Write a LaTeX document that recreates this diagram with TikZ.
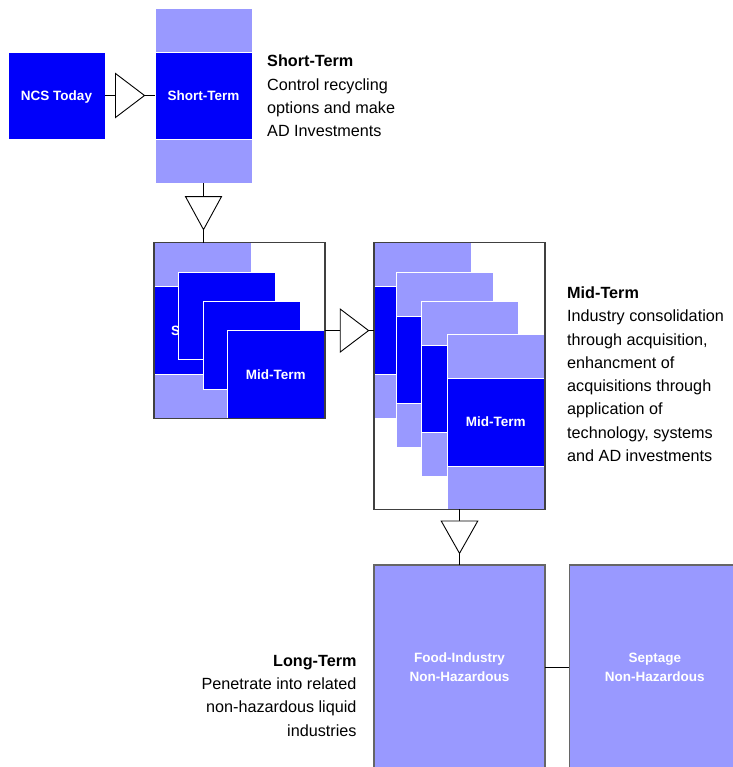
\documentclass[tikz,border=0pt]{standalone}
\usepackage{fontspec}
\setmainfont{Liberation Sans}
\usetikzlibrary{calc,positioning}
\definecolor{darkblue}{RGB}{0,0,250}
\definecolor{paleblue}{RGB}{153,153,255}

\begin{document}
\begin{tikzpicture}[x=1pt,y=-1pt,
    lite/.style={fill=paleblue,draw=white,line width=0.6pt,minimum width=97pt,minimum height=44pt,inner sep=0pt,outer sep=0pt,anchor=north west},
    deep/.style={lite,fill=darkblue,minimum height=87.5pt,text=white,text depth=0pt,font=\fontsize{13.5}{16}\selectfont\bfseries},
    frame/.style={draw=black!75,line width=1.1pt,inner sep=0pt,outer sep=0pt,anchor=north west},
    bigbox/.style={fill=paleblue,draw=black!60,line width=1.1pt,minimum width=171pt,minimum height=204pt,inner sep=0pt,outer sep=0pt,anchor=north west,text=white,align=center,font=\fontsize{13.5}{19}\selectfont\bfseries},
    wire/.style={draw=black,line width=0.9pt},
    tri/.style={draw=black,fill=white,line width=0.9pt,line join=miter},
    note/.style={font=\fontsize{16.2}{23.3}\selectfont,inner sep=0pt}]
    \useasboundingbox (0,0) rectangle (732,767);

    % today and short term
    \node[deep,minimum height=87pt] (today) at (8,52) {NCS Today};
    \node[lite] (st1) at (155,8) {};
    \node[deep] (st2) at (155,52) {Short-Term};
    \node[lite] (st3) at (155,139.5) {};

    % mid term, first step
    \node[lite] (ma1) at (154,242.7) {};
    \node[deep] (ma2) at (154,286.7) {\hspace*{9pt}Short-Term};
    \node[lite] (ma3) at (154,374.2) {};
    \node[deep] (mb) at (178.7,272) {};
    \node[deep] (mc) at (203,301.3) {};
    \node[deep] (md) at (227.3,330.5) {Mid-Term};
    \node[frame,minimum width=171pt,minimum height=175.7pt] (midA) at (154,242.7) {};

    % mid term, second step
    \foreach \i/\x/\y/\txt in {1/374/242.7/{},2/396.7/272/{},3/421.3/301/{},4/447.3/334.3/Mid-Term} {
        \node[lite] (r\i a) at (\x,\y) {};
        \node[deep] (r\i b) at (\x,{\y+44}) {\txt};
        \node[lite] (r\i c) at (\x,{\y+131.5}) {};
    }
    \node[frame,minimum width=171pt,minimum height=266.6pt] (midB) at (374,242.7) {};

    % long term
    \node[bigbox] (food) at (374,565) {Food-Industry\\Non-Hazardous};
    \node[bigbox] (sept) at (569.3,565) {Septage\\Non-Hazardous};

    % connectors
    \draw[wire] (today.east) -- (today.east -| st2.west);
    \draw[wire] (st3.south) -- (st3.south |- midA.north);
    \draw[wire] (midA.east) -- (midA.east -| midB.west);
    \draw[wire] (midB.south) -- (food.north);
    \draw[wire] (food.east) -- (sept.west);

    \coordinate (t1) at ($(today.east)!0.5!(today.east -| st2.west)$);
    \coordinate (t2) at ($(st3.south)!0.5!(st3.south |- midA.north)$);
    \coordinate (t3) at ($(midA.east)!0.6!(midA.east -| midB.west)$);
    \coordinate (t4) at ($(midB.south)!0.5!(food.north)$);
    \draw[tri] ($(t1)+(-14.5,-22)$) -- ($(t1)+(-14.5,22)$) -- ($(t1)+(14.5,0)$) -- cycle;
    \draw[tri] ($(t2)+(-18,-16.5)$) -- ($(t2)+(18,-16.5)$) -- ($(t2)+(0,16.5)$) -- cycle;
    \draw[tri] ($(t3)+(-14.2,-21.5)$) -- ($(t3)+(-14.2,21.5)$) -- ($(t3)+(14.2,0)$) -- cycle;
    \draw[tri] ($(t4)+(-18.3,-16.2)$) -- ($(t4)+(18.3,-16.2)$) -- ($(t4)+(0,16.2)$) -- cycle;

    % texts
    \node[note,anchor=north west,align=left] (shortnote) at (267,55) {\textbf{Short-Term}\\Control recycling\\options and make\\AD Investments};
    \node[note,anchor=north west,align=left] (midnote) at (567,286.5) {\textbf{Mid-Term}\\Industry consolidation\\through acquisition,\\enhancment of\\acquisitions through\\application of\\technology, systems\\and AD investments};
    \node[note,anchor=north east,align=right] (longnote) at (356.7,655) {\textbf{Long-Term}\\Penetrate into related\\non-hazardous liquid\\industries};
\end{tikzpicture}
\end{document}
